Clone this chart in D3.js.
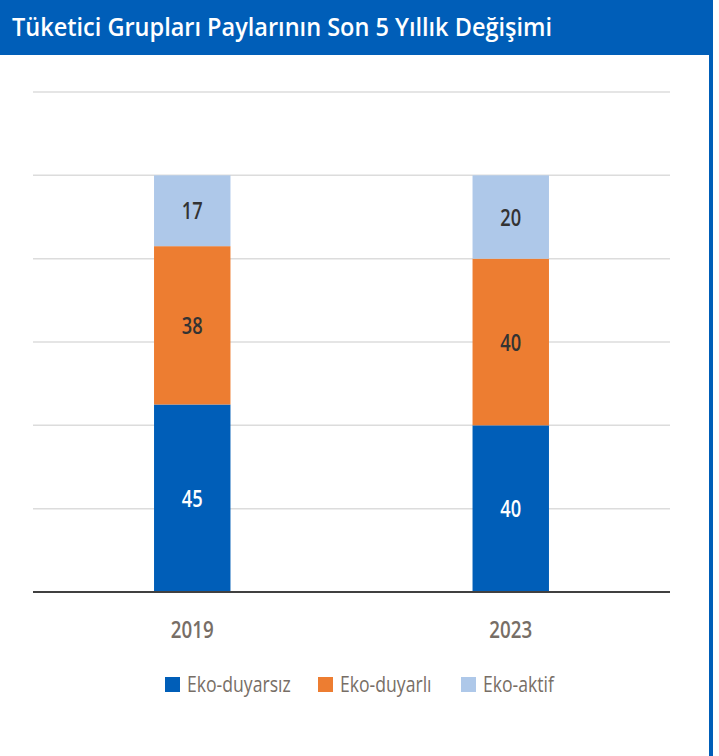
<!DOCTYPE html>
<html>
<head>
<meta charset="utf-8">
<script src="https://cdn.jsdelivr.net/npm/d3@7"></script>
<style>
  body { margin: 0; background: #fff; }
  svg { display: block; }
</style>
</head>
<body>
<div id="chart"></div>
<script>
const years = ["2019", "2023"];
const groups = ["Eko-duyarsız", "Eko-duyarlı", "Eko-aktif"];
const ekoDuyarsiz = [45, 40];
const ekoDuyarli = [38, 40];
const ekoAktif = [17, 20];
const colors = ["#005EB8", "#ED7D31", "#AEC8E9"];
const labelColors = ["#fff", "#333", "#333"];
const gridTicks = [0, 20, 40, 60, 80, 100, 120];

const W = 719, H = 756;
const font = "'Open Sans', sans-serif";
const margin = { left: 33, right: 49, top: 92, bottom: 164 };

const svg = d3.select("#chart").append("svg")
    .attr("width", W)
    .attr("height", H)
    .style("font-family", font);

// squeeze text horizontally to mimic the condensed face of the original
function condense(sel, k) {
    sel.each(function () {
        const len = this.getComputedTextLength();
        d3.select(this).attr("textLength", len * k).attr("lengthAdjust", "spacingAndGlyphs");
    });
}

// header + frame
svg.append("rect").attr("x", 0).attr("y", 0).attr("width", 713).attr("height", 55).attr("fill", "#005EB8");
svg.append("rect").attr("x", 709).attr("y", 0).attr("width", 4).attr("height", H).attr("fill", "#005EB8");
svg.append("text")
    .attr("x", 12).attr("y", 36)
    .attr("fill", "#fff")
    .style("font-size", "25px")
    .style("font-weight", 600)
    .text("Tüketici Grupları Paylarının Son 5 Yıllık Değişimi")
    .call(condense, 0.94);

const data = years.map((y, i) => ({
    year: y,
    [groups[0]]: ekoDuyarsiz[i],
    [groups[1]]: ekoDuyarli[i],
    [groups[2]]: ekoAktif[i]
}));

const x = d3.scaleBand().domain(years)
    .range([margin.left, W - margin.right])
    .paddingInner(0.76).paddingOuter(0.38);
const y = d3.scaleLinear().domain([0, 120]).range([H - margin.bottom, margin.top]);

svg.append("g")
    .selectAll("line")
    .data(gridTicks.slice(1))
    .join("line")
    .attr("x1", margin.left).attr("x2", W - margin.right)
    .attr("y1", d => y(d)).attr("y2", d => y(d))
    .attr("stroke", "#dcdcdc").attr("stroke-width", 1.5);

const stacked = d3.stack().keys(groups)(data);

const layer = svg.append("g")
    .selectAll("g")
    .data(stacked)
    .join("g")
    .attr("fill", (d, i) => colors[i]);

layer.selectAll("rect")
    .data(d => d)
    .join("rect")
    .attr("x", d => x(d.data.year))
    .attr("width", x.bandwidth())
    .attr("y", d => y(d[1]))
    .attr("height", d => y(d[0]) - y(d[1]));

layer.each(function (s, i) {
    d3.select(this).selectAll("text")
        .data(s)
        .join("text")
        .attr("x", d => x(d.data.year) + x.bandwidth() / 2)
        .attr("y", d => (y(d[0]) + y(d[1])) / 2)
        .attr("dy", "0.36em")
        .attr("text-anchor", "middle")
        .attr("fill", labelColors[i])
        .style("font-size", "24px")
        .style("font-weight", 600)
        .text(d => d[1] - d[0])
        .call(condense, 0.76);
});

// baseline
svg.append("line")
    .attr("x1", margin.left).attr("x2", W - margin.right)
    .attr("y1", y(0)).attr("y2", y(0))
    .attr("stroke", "#404040").attr("stroke-width", 2);

// x axis labels
svg.append("g")
    .selectAll("text")
    .data(years)
    .join("text")
    .attr("x", d => x(d) + x.bandwidth() / 2)
    .attr("y", 638)
    .attr("text-anchor", "middle")
    .attr("fill", "#776e66")
    .style("font-size", "24px")
    .style("font-weight", 600)
    .text(d => d)
    .call(condense, 0.78);

// legend
const legendX = [165, 318, 461];
const legend = svg.append("g")
    .selectAll("g")
    .data(groups)
    .join("g")
    .attr("transform", (d, i) => `translate(${legendX[i]},677)`);
legend.append("rect").attr("width", 15).attr("height", 15).attr("fill", (d, i) => colors[i]);
legend.append("text")
    .attr("x", 22).attr("y", 15)
    .attr("fill", "#776e66")
    .style("font-size", "22px")
    .text(d => d)
    .call(condense, 0.8);
</script>
</body>
</html>
